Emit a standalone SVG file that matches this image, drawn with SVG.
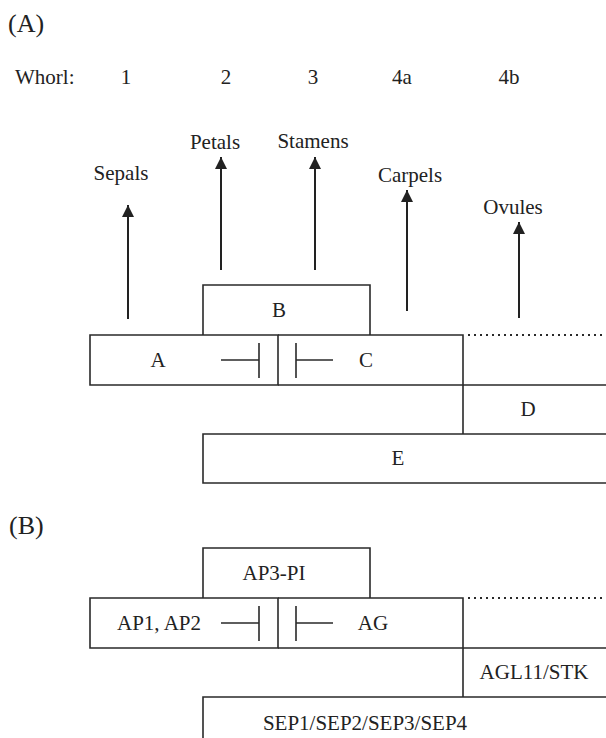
<svg xmlns="http://www.w3.org/2000/svg" width="606" height="738" viewBox="0 0 606 738">
<defs>
<style>
text{font-family:"Liberation Serif","Times New Roman",serif;font-size:21px;fill:#222;}
.c{text-anchor:middle;}
.big{font-size:26px;}
.box{fill:none;stroke:#2a2a2a;stroke-width:1.6;}
.ln{fill:none;stroke:#2a2a2a;stroke-width:1.6;}
.dot{fill:none;stroke:#2a2a2a;stroke-width:2;stroke-dasharray:2 4;}
.arr{fill:none;stroke:#222;stroke-width:2;marker-end:url(#ah);}
</style>
<marker id="ah" viewBox="0 0 12 12" refX="12" refY="6" markerWidth="12" markerHeight="12" markerUnits="userSpaceOnUse" orient="auto">
<path d="M0,0 L12,6 L0,12 z" fill="#222"/>
</marker>
</defs>
<rect width="606" height="738" fill="#fff"/>

<g id="title-a"><text class="big" x="8" y="32">(A)</text></g>
<g id="whorls">
<text x="15" y="84">Whorl:</text>
<text class="c" x="126" y="84">1</text>
<text class="c" x="226" y="84">2</text>
<text class="c" x="313" y="84">3</text>
<text class="c" x="402" y="84">4a</text>
<text class="c" x="509" y="84">4b</text>
</g>

<g id="organ-labels">
<text class="c" x="121" y="180">Sepals</text>
<text class="c" x="215" y="149">Petals</text>
<text class="c" x="313" y="148">Stamens</text>
<text class="c" x="410" y="182">Carpels</text>
<text class="c" x="513" y="214">Ovules</text>
</g>

<g id="connectors">
<line class="arr" x1="128" y1="319" x2="128" y2="205"/>
<line class="arr" x1="221" y1="270" x2="221" y2="157"/>
<line class="arr" x1="315" y1="270" x2="315" y2="157"/>
<line class="arr" x1="407" y1="311" x2="407" y2="190"/>
<line class="arr" x1="519" y1="318" x2="519" y2="222"/>
</g>

<g id="panel-a">
<g id="node-B"><path class="box" d="M203,335 V285 H370 V335"/><text class="c" x="279" y="317">B</text></g>
<g id="node-A"><path class="box" d="M278,385 H90 V335 H278 Z"/><text class="c" x="158" y="367">A</text>
<path class="ln" d="M221,360 H259 M259,343 V378"/></g>
<g id="node-C"><path class="box" d="M278,335 H463 V385 H278"/><text class="c" x="366" y="367">C</text>
<path class="ln" d="M296,343 V378 M296,360 H333"/></g>
<g id="node-D"><path class="box" d="M463,385 H606 M463,385 V434"/><path class="dot" d="M468,335 H606"/><text class="c" x="528" y="416">D</text></g>
<g id="node-E"><path class="box" d="M606,434 H203 V483 H606"/><text class="c" x="398" y="465">E</text></g>
</g>

<g id="title-b"><text class="big" x="9" y="534">(B)</text></g>

<g id="panel-b">
<g id="node-AP3PI"><path class="box" d="M203,598 V548 H370 V598"/><text class="c" x="274" y="580">AP3-PI</text></g>
<g id="node-AP1AP2"><path class="box" d="M278,648 H90 V598 H278 Z"/><text class="c" x="159" y="630">AP1, AP2</text>
<path class="ln" d="M221,623 H259 M259,606 V641"/></g>
<g id="node-AG"><path class="box" d="M278,598 H463 V648 H278"/><text class="c" x="373" y="630">AG</text>
<path class="ln" d="M296,606 V641 M296,623 H333"/></g>
<g id="node-AGL11"><path class="box" d="M463,648 H606 M463,648 V697"/><path class="dot" d="M468,598 H606"/><text class="c" x="534" y="679">AGL11/STK</text></g>
<g id="node-SEP"><path class="box" d="M606,697 H203 V740"/><text class="c" x="365" y="730">SEP1/SEP2/SEP3/SEP4</text></g>
</g>
</svg>
